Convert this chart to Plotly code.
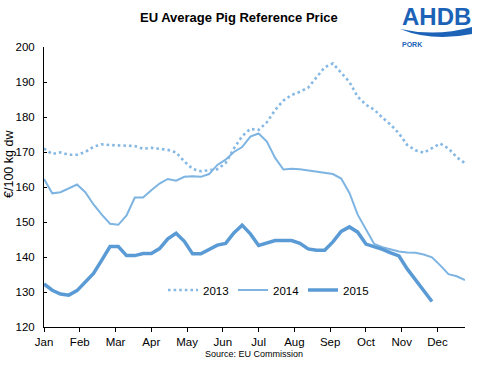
import plotly.graph_objects as go

weeks_2013 = list(range(1, 53))
price_2013 = [171.0, 169.4, 169.9, 169.2, 169.2, 170.0, 171.5, 172.2, 172.0, 172.0,
              171.8, 171.7, 170.9, 171.2, 171.0, 170.6, 169.9, 167.3, 165.2, 164.5,
              164.8, 165.1, 166.8, 171.0, 174.5, 176.6, 176.3, 178.5, 182.0, 184.7,
              186.3, 187.2, 188.4, 191.2, 194.2, 195.3, 192.5, 190.0, 185.8, 183.5,
              182.1, 179.8, 177.8, 175.3, 172.0, 170.5, 169.8, 171.0, 172.4, 171.0,
              168.5, 166.8]

weeks_2014 = list(range(1, 53))
price_2014 = [162.3, 158.2, 158.5, 159.6, 160.7, 158.5, 155.0, 152.1, 149.5, 149.2,
              151.9, 157.0, 157.0, 159.1, 161.0, 162.3, 161.8, 162.9, 163.1, 162.9,
              163.7, 166.3, 167.8, 170.0, 171.4, 174.4, 175.3, 173.0, 168.3, 165.0,
              165.2, 165.1, 164.8, 164.3, 164.0, 163.7, 162.4, 158.3, 152.1, 147.9,
              143.7, 142.8, 142.2, 141.6, 141.3, 141.2, 140.7, 139.9, 137.6, 135.1,
              134.5, 133.4]

weeks_2015 = list(range(1, 49))
price_2015 = [132.3, 130.5, 129.4, 129.1, 130.4, 132.9, 135.3, 139.1, 143.0, 143.0,
              140.4, 140.4, 141.0, 141.0, 142.4, 145.2, 146.8, 144.5, 140.9, 140.9,
              142.2, 143.4, 143.9, 146.9, 149.1, 146.6, 143.3, 144.1, 144.7, 144.7,
              144.7, 143.9, 142.3, 141.9, 141.9, 144.3, 147.3, 148.6, 147.1, 143.7,
              143.0, 142.2, 141.2, 140.3, 136.6, 133.5, 130.7, 127.3]

month_labels = ["Jan", "Feb", "Mar", "Apr", "May", "Jun",
                "Jul", "Aug", "Sep", "Oct", "Nov", "Dec"]
month_ticks = [1 + k * 52 / 12 for k in range(12)]

W, H = 480, 366
ML, MR, MT, MB = 44, 15, 47, 39
PW, PH = W - ML - MR, H - MT - MB


def px(x):
    return (x - ML) / PW


def py(y):
    return (H - MB - y) / PH


FONT = "Liberation Sans, Arial, sans-serif"

fig = go.Figure()
fig.add_trace(go.Scatter(x=weeks_2013, y=price_2013, name="2013", mode="lines",
                         line=dict(color="#86B8E4", width=2.6, dash="2.6px,3px")))
fig.add_trace(go.Scatter(x=weeks_2014, y=price_2014, name="2014", mode="lines",
                         line=dict(color="#7DB4E2", width=2)))
fig.add_trace(go.Scatter(x=weeks_2015, y=price_2015, name="2015", mode="lines",
                         line=dict(color="#5B9BD5", width=3.5)))

fig.update_layout(
    width=W, height=H,
    margin=dict(l=ML, r=MR, t=MT, b=MB),
    paper_bgcolor="white", plot_bgcolor="white",
    font=dict(family=FONT, size=11.5, color="black"),
    showlegend=True,
    legend=dict(orientation="h", x=px(163), y=py(290), xanchor="left", yanchor="middle",
                bgcolor="rgba(0,0,0,0)", font=dict(size=11.5),
                entrywidth=25, entrywidthmode="pixels", itemwidth=30),
    xaxis=dict(range=[1, 52], tickvals=month_ticks, ticktext=month_labels,
               showgrid=False, zeroline=False, showline=True, linecolor="black",
               linewidth=1, ticks="outside", ticklen=4, tickcolor="black"),
    yaxis=dict(range=[120, 200], dtick=10, showgrid=False, zeroline=False,
               showline=True, linecolor="black", linewidth=1, ticks="inside",
               ticklen=3, tickcolor="black", ticklabelstandoff=6),
)

fig.add_annotation(text="<b>EU Average Pig Reference Price</b>", xref="paper", yref="paper",
                   x=px(239), y=py(18), showarrow=False, font=dict(size=13),
                   xanchor="center", yanchor="middle")
fig.add_annotation(text="€/100 kg dw", xref="paper", yref="paper", x=px(9), y=py(164),
                   showarrow=False, textangle=-90, font=dict(size=12.5),
                   xanchor="center", yanchor="middle")
fig.add_annotation(text="Source: EU Commission", xref="paper", yref="paper",
                   x=px(254), y=py(354), showarrow=False, font=dict(size=9),
                   xanchor="center", yanchor="middle")

LOGO = "#1C63B7"
fig.add_annotation(text="<b>AHDB</b>", xref="paper", yref="paper", x=px(436), y=py(17),
                   showarrow=False, font=dict(size=24, color=LOGO),
                   xanchor="center", yanchor="middle")
fig.add_annotation(text="<b>PORK</b>", xref="paper", yref="paper", x=px(400), y=py(44),
                   showarrow=False, font=dict(size=7, color=LOGO),
                   xanchor="left", yanchor="middle")


def pt(x, y):
    return f"{px(x):.4f},{py(y):.4f}"


swoosh = (f"M {pt(400, 29)} Q {pt(432, 42)} {pt(472, 34)} L {pt(472, 27)} "
          f"Q {pt(436, 37)} {pt(400, 29)} Z")
fig.add_shape(type="path", path=swoosh, xref="paper", yref="paper",
              fillcolor=LOGO, line=dict(width=0))

fig.write_html("out.html", config={"displayModeBar": False},
               post_script="document.body.style.margin='0';document.body.style.overflow='hidden';")
